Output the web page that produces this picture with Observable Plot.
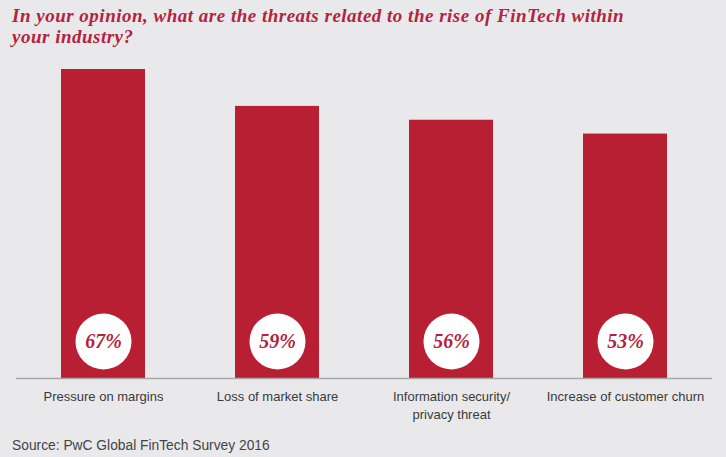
<!DOCTYPE html>
<html>
<head>
<meta charset="utf-8">
<script src="https://cdn.jsdelivr.net/npm/d3@7"></script>
<script src="https://cdn.jsdelivr.net/npm/@observablehq/plot@0.6"></script>
<style>
  html, body { margin: 0; padding: 0; background: #e9e9ec; }
  body { width: 726px; height: 457px; overflow: hidden; position: relative; }
  #title { position: absolute; left: 12px; top: 5px; font-family: "Liberation Serif", serif; font-weight: bold; font-style: italic; font-size: 19px; letter-spacing: 0.5px; line-height: 21px; color: #b5233c; }
  #chart { position: absolute; left: 0; top: 50px; }
  #source { position: absolute; left: 12px; top: 438px; font-family: "Liberation Sans", Arial, sans-serif; font-size: 13.8px; color: #444; }
</style>
</head>
<body>
<div id="title">In your opinion, what are the threats related to the rise of FinTech within<br>your industry?</div>
<div id="chart"></div>
<div id="source">Source: PwC Global FinTech Survey 2016</div>
<script>
const categories = ["Pressure on margins", "Loss of market share", "Information security/\nprivacy threat", "Increase of customer churn"];
const values = [67, 59, 56, 53];
const labels = ["67%", "59%", "56%", "53%"];

const data = categories.map((c, i) => ({category: c, value: values[i], label: labels[i]}));

const chart = Plot.plot({
  width: 726,
  height: 380,
  marginLeft: 16,
  marginRight: 14,
  marginTop: 19,
  marginBottom: 52,
  style: {background: "transparent", fontFamily: "'Liberation Sans', Arial, sans-serif", fontSize: "13px", color: "#3a3a3a"},
  x: {domain: categories, paddingInner: 0.517, paddingOuter: 0.2585, label: null},
  y: {domain: [0, 67], axis: null},
  marks: [
    Plot.barY(data, {x: "category", y: "value", fill: "#b81f33"}),
    Plot.ruleY([0], {stroke: "#a8a8ab", strokeWidth: 1.5}),
    Plot.dot(data, {x: "category", frameAnchor: "bottom", dy: -37, r: 28, fill: "white", stroke: "none"}),
    Plot.text(data, {x: "category", frameAnchor: "bottom", lineAnchor: "middle", dy: -37, text: "label", fill: "#b5203a", fontFamily: "'Liberation Serif', serif", fontWeight: "bold", fontStyle: "italic", fontSize: 20, letterSpacing: "1px"}),
    Plot.axisX({tickSize: 0, tickPadding: 10, label: null, fill: "#3a3a3a", lineHeight: 1.35})
  ]
});
document.getElementById("chart").appendChild(chart);
</script>
</body>
</html>
